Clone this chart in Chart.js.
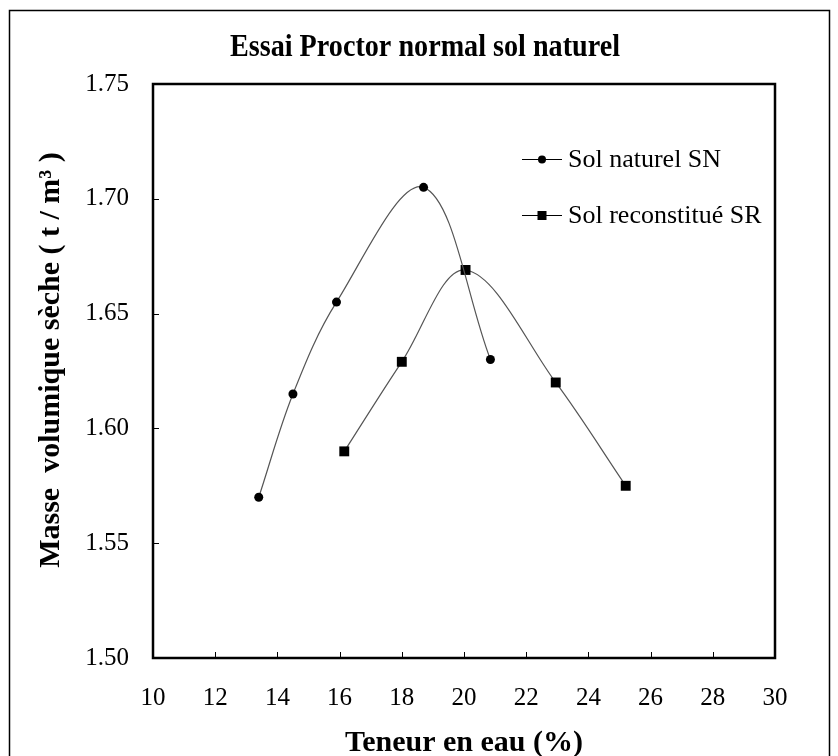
<!DOCTYPE html>
<html>
<head>
<meta charset="utf-8">
<script src="https://cdn.jsdelivr.net/npm/chart.js@4/dist/chart.umd.min.js"></script>
<style>
  html, body { margin: 0; padding: 0; background: #fff; }
  #c { display: block; }
</style>
</head>
<body>
<canvas id="c" width="838" height="756"></canvas>
<script>
// Proctor test results: water content (%) vs. dry density (t/m3)
const snWater   = [13.4, 14.5, 15.9, 18.7, 20.85];
const snDensity = [1.570, 1.615, 1.655, 1.705, 1.630];
const srWater   = [16.15, 18.0, 20.05, 22.95, 25.2];
const srDensity = [1.590, 1.629, 1.669, 1.620, 1.575];

const seriesNames = ['Sol naturel SN', 'Sol reconstitué SR'];
const chartTitle = 'Essai Proctor normal sol naturel';
const xAxisTitle = 'Teneur en eau (%)';
const yAxisTitle = 'Masse  volumique sèche ( t / m³ )';
const xTicks = [10, 12, 14, 16, 18, 20, 22, 24, 26, 28, 30];
const yTicks = [1.50, 1.55, 1.60, 1.65, 1.70, 1.75];

const SERIF = '"Liberation Serif", "Times New Roman", serif';

const toPoints = (xs, ys) => xs.map((x, i) => ({ x: x, y: ys[i] }));

// page frame, white background, heading and vertical axis title
const framePlugin = {
  id: 'frame',
  beforeDraw(chart) {
    const ctx = chart.ctx;
    ctx.save();
    ctx.fillStyle = '#fff';
    ctx.fillRect(0, 0, chart.width, chart.height);
    ctx.strokeStyle = '#000';
    ctx.lineWidth = 1.5;
    ctx.beginPath();
    ctx.moveTo(9.5, chart.height + 2);
    ctx.lineTo(9.5, 10.5);
    ctx.lineTo(829.5, 10.5);
    ctx.lineTo(829.5, chart.height + 2);
    ctx.stroke();
    ctx.fillStyle = '#000';
    ctx.textAlign = 'center';
    ctx.textBaseline = 'middle';

    ctx.save();
    ctx.font = 'bold 32px ' + SERIF;
    ctx.translate(chart.width / 2 + 6, 48);
    ctx.scale(0.88, 1);
    ctx.fillText(chartTitle, 0, 0);
    ctx.restore();

    ctx.save();
    ctx.font = 'bold 30px ' + SERIF;
    ctx.translate(51, 360);
    ctx.rotate(-Math.PI / 2);
    ctx.fillText(yAxisTitle, 0, 0);
    ctx.restore();

    ctx.restore();
  }
};

// plot box with inward tick marks
const boxPlugin = {
  id: 'box',
  beforeDatasetsDraw(chart) {
    const { ctx, chartArea: a, scales } = chart;
    ctx.save();
    ctx.strokeStyle = '#000';
    ctx.lineWidth = 1;
    ctx.beginPath();
    scales.x.ticks.forEach(t => {
      const px = Math.round(scales.x.getPixelForValue(t.value)) + 0.5;
      ctx.moveTo(px, a.bottom);
      ctx.lineTo(px, a.bottom - 6);
    });
    scales.y.ticks.forEach(t => {
      const py = Math.round(scales.y.getPixelForValue(t.value)) + 0.5;
      ctx.moveTo(a.left, py);
      ctx.lineTo(a.left + 6, py);
    });
    ctx.stroke();
    ctx.lineWidth = 2.5;
    ctx.strokeRect(a.left, a.top, a.right - a.left, a.bottom - a.top);
    ctx.restore();
  }
};

// legend drawn inside the plot area, line sample with marker
const legendPlugin = {
  id: 'insideLegend',
  afterDatasetsDraw(chart) {
    const { ctx, chartArea: a } = chart;
    const x0 = a.left + 369;
    const rows = [a.top + 75, a.top + 131];
    ctx.save();
    chart.data.datasets.forEach((ds, i) => {
      const y = rows[i];
      ctx.strokeStyle = '#000';
      ctx.lineWidth = 1.2;
      ctx.beginPath();
      ctx.moveTo(x0, y + 0.5);
      ctx.lineTo(x0 + 40, y + 0.5);
      ctx.stroke();
      ctx.fillStyle = '#000';
      if (ds.pointStyle === 'rect') {
        ctx.fillRect(x0 + 20 - 4.5, y - 4, 9, 9);
      } else {
        ctx.beginPath();
        ctx.arc(x0 + 20, y + 0.5, 4, 0, Math.PI * 2);
        ctx.fill();
      }
      ctx.font = '26px ' + SERIF;
      ctx.textBaseline = 'middle';
      ctx.textAlign = 'left';
      ctx.fillText(ds.label, x0 + 46, y + 1);
    });
    ctx.restore();
  }
};

new Chart(document.getElementById('c'), {
  type: 'scatter',
  data: {
    datasets: [
      {
        label: seriesNames[0],
        data: toPoints(snWater, snDensity),
        showLine: true,
        tension: 0.35,
        borderColor: '#555',
        borderWidth: 1.2,
        pointStyle: 'circle',
        pointRadius: 4.5,
        pointBackgroundColor: '#000',
        pointBorderColor: '#000',
        pointBorderWidth: 0
      },
      {
        label: seriesNames[1],
        data: toPoints(srWater, srDensity),
        showLine: true,
        tension: 0.35,
        borderColor: '#555',
        borderWidth: 1.2,
        pointStyle: 'rect',
        pointRadius: 7,
        pointBackgroundColor: '#000',
        pointBorderColor: '#000',
        pointBorderWidth: 0
      }
    ]
  },
  options: {
    responsive: false,
    animation: false,
    events: [],
    layout: { padding: { left: 0, right: 63, top: 84, bottom: 0 } },
    plugins: {
      legend: { display: false },
      tooltip: { enabled: false },
      title: { display: false }
    },
    scales: {
      x: {
        type: 'linear',
        min: 10,
        max: 30,
        afterBuildTicks(s) { s.ticks = xTicks.map(v => ({ value: v })); },
        afterFit(s) { s.height = 98; },
        grid: { display: false, drawTicks: false },
        border: { display: false },
        ticks: {
          color: '#000',
          padding: 25,
          font: { family: SERIF, size: 25 },
          callback: v => String(v)
        },
        title: {
          display: true,
          text: xAxisTitle,
          color: '#000',
          font: { family: SERIF, size: 30, weight: 'bold', lineHeight: 0.85 },
          padding: { top: 0, bottom: 0 }
        }
      },
      y: {
        type: 'linear',
        min: 1.5,
        max: 1.75,
        afterBuildTicks(s) { s.ticks = yTicks.map(v => ({ value: v })); },
        afterFit(s) { s.width = 153; },
        grid: { display: false, drawTicks: false },
        border: { display: false },
        ticks: {
          color: '#000',
          padding: 24,
          font: { family: SERIF, size: 25 },
          callback: v => v.toFixed(2)
        },
        title: { display: false }
      }
    }
  },
  plugins: [framePlugin, boxPlugin, legendPlugin]
});
</script>
</body>
</html>
